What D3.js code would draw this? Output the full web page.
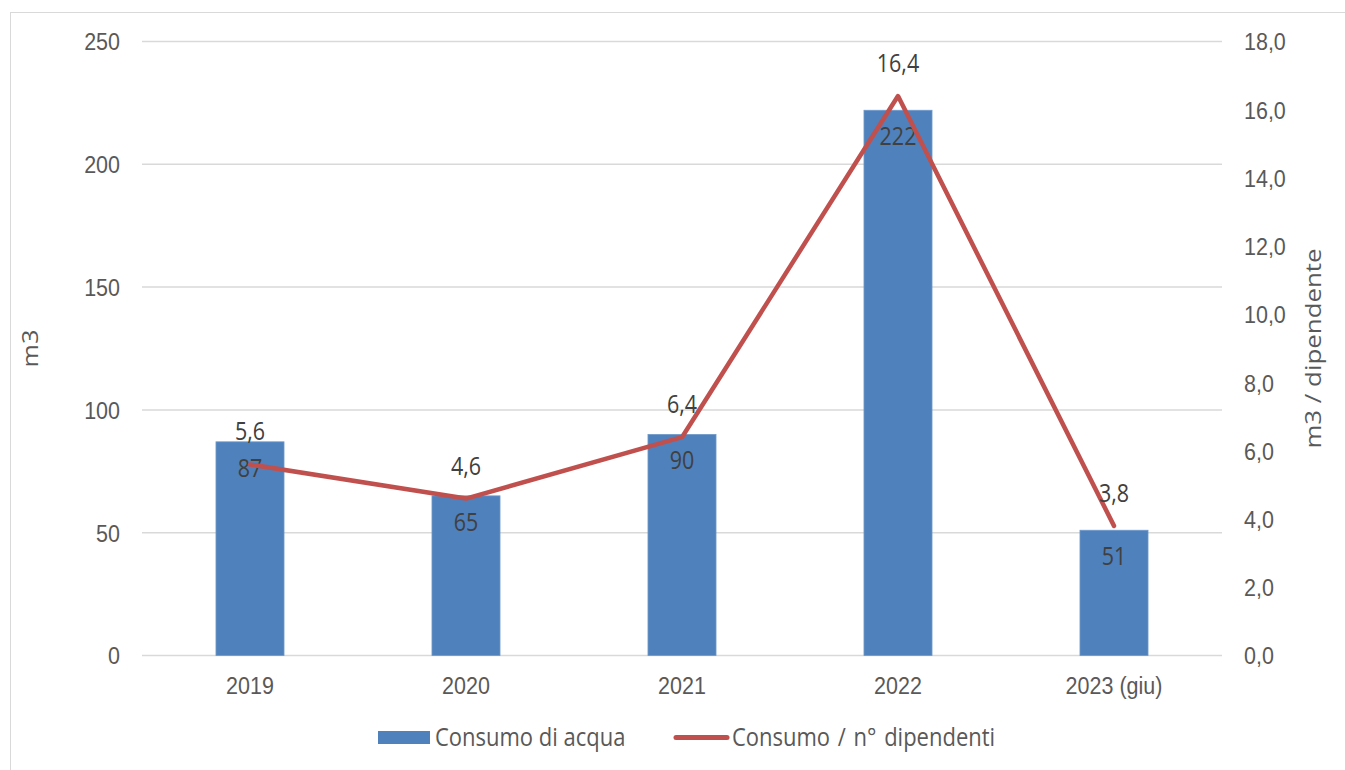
<!DOCTYPE html>
<html>
<head>
<meta charset="utf-8">
<script src="https://cdn.jsdelivr.net/npm/d3@7"></script>
<style>
  html, body { margin: 0; padding: 0; background: #fff; }
  svg { display: block; font-family: "Open Sans", "DejaVu Sans", sans-serif; }
</style>
</head>
<body>
<svg id="chart" width="1345" height="770"></svg>
<script>
// Water consumption per year, and consumption per employee
const categories = ["2019", "2020", "2021", "2022", "2023 (giu)"];
const consumo = [87, 65, 90, 222, 51];
const perDipendente = [5.6, 4.6, 6.4, 16.4, 3.8];
const leftTicks = [0, 50, 100, 150, 200, 250];
const rightTicks = [0, 2, 4, 6, 8, 10, 12, 14, 16, 18];

const svg = d3.select("#chart");
const W = 1345, H = 770;
const plot = { left: 142, right: 1222, top: 41.5, bottom: 655.5 };
const SY = 1.15;           // glyphs are drawn slightly tall
const FS = 21.5;           // base font size

const fmtIt = d3.formatLocale({ decimal: ",", thousands: ".", grouping: [3], currency: ["€", ""] });
const f1 = fmtIt.format(".1f");

// place a text node at (x, y) with the vertical stretch
function tall(sel, x, y) {
  sel.attr("x", null).attr("y", null)
     .attr("transform", (d, i) => `translate(${typeof x === "function" ? x(d, i) : x},${typeof y === "function" ? y(d, i) : y}) scale(1,${SY})`);
  return sel;
}

// outer frame
svg.append("rect")
  .attr("x", 10.5).attr("y", 12.5)
  .attr("width", W).attr("height", H)
  .attr("fill", "none").attr("stroke", "#d9d9d9").attr("stroke-width", 1);

const x = d3.scaleBand().domain(categories).range([plot.left, plot.right]).paddingInner(0).paddingOuter(0);
const cx = c => x(c) + x.bandwidth() / 2;
const yL = d3.scaleLinear().domain([0, 250]).range([plot.bottom, plot.top]);
const yR = d3.scaleLinear().domain([0, 18]).range([plot.bottom, plot.top]);

// gridlines
svg.append("g").selectAll("line").data(leftTicks).join("line")
  .attr("x1", plot.left).attr("x2", plot.right)
  .attr("y1", d => yL(d)).attr("y2", d => yL(d))
  .attr("stroke", "#d9d9d9").attr("stroke-width", 1.5);

// left axis
const axL = svg.append("g").attr("transform", `translate(${plot.left},0)`)
  .call(d3.axisLeft(yL).tickValues(leftTicks).tickSize(0));
axL.select(".domain").remove();
axL.selectAll("text").attr("fill", "#595959").attr("font-size", FS).attr("dy", null)
  .attr("text-anchor", "end")
  .attr("transform", `translate(-22,${0.34 * FS * SY}) scale(1,${SY})`).attr("x", null);

// right axis
const axR = svg.append("g").attr("transform", `translate(${plot.right},0)`)
  .call(d3.axisRight(yR).tickValues(rightTicks).tickSize(0).tickFormat(f1));
axR.select(".domain").remove();
axR.selectAll("text").attr("fill", "#595959").attr("font-size", FS).attr("dy", null)
  .attr("text-anchor", "start")
  .attr("transform", `translate(22,${0.34 * FS * SY}) scale(1,${SY})`).attr("x", null);

// bottom axis
const axB = svg.append("g").attr("transform", `translate(0,${plot.bottom})`)
  .call(d3.axisBottom(x).tickSize(0));
axB.select(".domain").remove();
axB.selectAll("text").attr("fill", "#595959").attr("font-size", FS).attr("dy", null).attr("y", null)
  .attr("transform", `translate(0,38) scale(1,${SY})`);

// axis titles
svg.append("text")
  .attr("transform", `translate(38,${(plot.top + plot.bottom) / 2}) rotate(-90) scale(${SY},1)`)
  .attr("text-anchor", "middle").attr("font-size", 22).attr("fill", "#595959")
  .text("m3");
svg.append("text")
  .attr("transform", `translate(1321,${(plot.top + plot.bottom) / 2}) rotate(-90) scale(${SY},1)`)
  .attr("text-anchor", "middle").attr("font-size", 22.5).attr("fill", "#595959")
  .text("m3 / dipendente");

// bars
const barW = x.bandwidth() * 0.315;
svg.append("g").selectAll("rect").data(consumo).join("rect")
  .attr("x", (d, i) => cx(categories[i]) - barW / 2)
  .attr("y", d => yL(d))
  .attr("width", barW)
  .attr("height", d => yL(0) - yL(d))
  .attr("fill", "#4f81bd")
  .attr("stroke", "#6f98c9").attr("stroke-width", 0.8);

// bar value labels
svg.append("g").selectAll("text").data(consumo).join("text")
  .attr("text-anchor", "middle").attr("font-size", FS).attr("fill", "#404040")
  .text(d => d)
  .call(tall, (d, i) => cx(categories[i]), d => yL(d) + 35);

// line
const line = d3.line()
  .x((d, i) => cx(categories[i]))
  .y(d => yR(d));
svg.append("path").datum(perDipendente)
  .attr("d", line)
  .attr("fill", "none").attr("stroke", "#c0504d").attr("stroke-width", 4.5)
  .attr("stroke-linecap", "round").attr("stroke-linejoin", "round");

// line value labels
svg.append("g").selectAll("text").data(perDipendente).join("text")
  .attr("text-anchor", "middle").attr("font-size", FS).attr("fill", "#404040")
  .text(d => f1(d))
  .call(tall, (d, i) => cx(categories[i]), d => yR(d) - 24);

// legend
const lg = svg.append("g");
lg.append("rect").attr("x", 378).attr("y", 731).attr("width", 52).attr("height", 13).attr("fill", "#4f81bd");
lg.append("text").attr("font-size", 22).attr("fill", "#595959").text("Consumo di acqua")
  .call(tall, 435, 746);
lg.append("line").attr("x1", 676).attr("x2", 727).attr("y1", 737.5).attr("y2", 737.5)
  .attr("stroke", "#c0504d").attr("stroke-width", 5).attr("stroke-linecap", "round");
lg.append("text").attr("font-size", 22).attr("fill", "#595959").text("Consumo / n° dipendenti")
  .attr("word-spacing", 2)
  .call(tall, 732, 746);
</script>
</body>
</html>
